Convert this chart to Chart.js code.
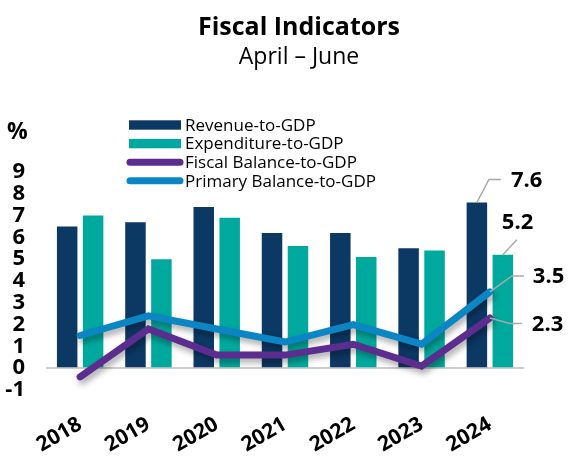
<!DOCTYPE html>
<html>
<head>
<meta charset="utf-8">
<script src="https://cdn.jsdelivr.net/npm/chart.js@4.4.1/dist/chart.umd.min.js"></script>
<style>
  html, body { margin: 0; padding: 0; background: #fff; }
</style>
</head>
<body>
<canvas id="fiscal" width="569" height="462"></canvas>
<script>
const years = ['2018', '2019', '2020', '2021', '2022', '2023', '2024'];
const revenue = [6.5, 6.7, 7.4, 6.2, 6.2, 5.5, 7.6];
const expenditure = [7.0, 5.0, 6.9, 5.6, 5.1, 5.4, 5.2];
const fiscalBalance = [-0.4, 1.8, 0.6, 0.6, 1.1, 0.1, 2.3];
const primaryBalance = [1.5, 2.4, 1.8, 1.2, 2.0, 1.1, 3.5];
const yTicks = [-1, 0, 1, 2, 3, 4, 5, 6, 7, 8, 9];

const FONT = '"Open Sans", "Noto Sans", sans-serif';
const NAVY = '#0c3864';
const TEAL = '#00a99d';
const PURPLE = '#5b2d8e';
const BLUE = '#0a86c4';

// soft drop shadow under the two balance lines
const lineShadow = {
    id: 'lineShadow',
    beforeDatasetDraw: (chart, args) => {
        if (args.meta.type !== 'line') return;
        const ctx = chart.ctx;
        ctx.save();
        ctx.shadowColor = 'rgba(0,0,0,0.35)';
        ctx.shadowBlur = 6;
        ctx.shadowOffsetX = 2;
        ctx.shadowOffsetY = 4;
    },
    afterDatasetDraw: (chart, args) => {
        if (args.meta.type !== 'line') return;
        chart.ctx.restore();
    }
};

// title, unit, legend and the 2024 value callouts
const decorations = {
    id: 'decorations',
    afterDraw: (chart) => {
        const ctx = chart.ctx;
        ctx.save();
        ctx.fillStyle = '#000';
        ctx.textAlign = 'center';
        ctx.textBaseline = 'alphabetic';
        ctx.font = 'bold 25px ' + FONT;
        ctx.fillText('Fiscal Indicators', 299, 35);
        ctx.font = '23px ' + FONT;
        ctx.fillText('April \u2013 June', 299, 64);

        ctx.textAlign = 'left';
        ctx.font = 'bold 23px ' + FONT;
        ctx.fillText('%', 7, 139);

        // legend
        ctx.textBaseline = 'middle';
        ctx.font = '17px ' + FONT;
        chart.data.datasets.forEach((ds, i) => {
            const y = 125 + i * 18.6;
            if (ds.type === 'line') {
                ctx.strokeStyle = ds.borderColor;
                ctx.lineWidth = 7;
                ctx.lineCap = 'round';
                ctx.beginPath();
                ctx.moveTo(130, y);
                ctx.lineTo(180, y);
                ctx.stroke();
            } else {
                ctx.fillStyle = ds.backgroundColor;
                ctx.fillRect(129, y - 4.7, 52, 9.4);
            }
            ctx.fillStyle = '#000';
            ctx.fillText(ds.label, 185, y + 1);
        });

        // callouts for the last year
        const last = years.length - 1;
        const callouts = [
            { ds: 0, path: [[12, -23], [24, -23]], text: [34, -22] },
            { ds: 1, path: [[14, -15]], text: [-1, -32] },
            { ds: 3, path: [[22, -16], [34, -16]], text: [43, -15] },
            { ds: 2, path: [[20, 5.5], [32, 5.5]], text: [42, 6.5] }
        ];
        ctx.strokeStyle = '#a9a9a9';
        ctx.lineWidth = 1.5;
        ctx.lineCap = 'butt';
        ctx.font = 'bold 22px ' + FONT;
        ctx.fillStyle = '#000';
        ctx.textAlign = 'left';
        callouts.forEach(c => {
            const el = chart.getDatasetMeta(c.ds).data[last];
            ctx.beginPath();
            ctx.moveTo(el.x, el.y);
            c.path.forEach(p => ctx.lineTo(el.x + p[0], el.y + p[1]));
            ctx.stroke();
            const v = chart.data.datasets[c.ds].data[last];
            ctx.fillText(v.toFixed(1), el.x + c.text[0], el.y + c.text[1]);
        });
        ctx.restore();
    }
};

new Chart(document.getElementById('fiscal'), {
    data: {
        labels: years,
        datasets: [
            {
                type: 'bar',
                label: 'Revenue-to-GDP',
                data: revenue,
                backgroundColor: NAVY,
                categoryPercentage: 0.76,
                barPercentage: 0.79,
                order: 2
            },
            {
                type: 'bar',
                label: 'Expenditure-to-GDP',
                data: expenditure,
                backgroundColor: TEAL,
                categoryPercentage: 0.76,
                barPercentage: 0.79,
                order: 2
            },
            {
                type: 'line',
                label: 'Fiscal Balance-to-GDP',
                data: fiscalBalance,
                borderColor: PURPLE,
                borderWidth: 7,
                borderCapStyle: 'round',
                borderJoinStyle: 'miter',
                pointRadius: 0,
                tension: 0,
                order: 1
            },
            {
                type: 'line',
                label: 'Primary Balance-to-GDP',
                data: primaryBalance,
                borderColor: BLUE,
                borderWidth: 7,
                borderCapStyle: 'round',
                borderJoinStyle: 'miter',
                pointRadius: 0,
                tension: 0,
                order: 1
            }
        ]
    },
    options: {
        responsive: false,
        animation: false,
        layout: {
            padding: { top: 172, right: 45, bottom: 0, left: 0 }
        },
        scales: {
            x: {
                offset: true,
                grid: { display: false },
                border: { display: false },
                ticks: {
                    color: '#000',
                    font: { family: FONT, size: 21, weight: 'bold' },
                    minRotation: 30,
                    maxRotation: 30,
                    padding: 14
                },
                afterFit: (scale) => { scale.height = 72; }
            },
            y: {
                min: -1,
                max: 9,
                afterBuildTicks: (scale) => {
                    scale.ticks = yTicks.map(v => ({ value: v }));
                },
                grid: {
                    drawTicks: false,
                    lineWidth: 2,
                    color: (c) => c.tick && c.tick.value === 0 ? '#cccccc' : 'rgba(0,0,0,0)'
                },
                border: { display: false },
                ticks: {
                    autoSkip: false,
                    color: '#000',
                    font: { family: FONT, size: 22, weight: 'bold' },
                    padding: 21
                },
                afterFit: (scale) => { scale.width = 46; }
            }
        },
        plugins: {
            legend: { display: false },
            tooltip: { enabled: false }
        }
    },
    plugins: [lineShadow, decorations]
});
</script>
</body>
</html>
